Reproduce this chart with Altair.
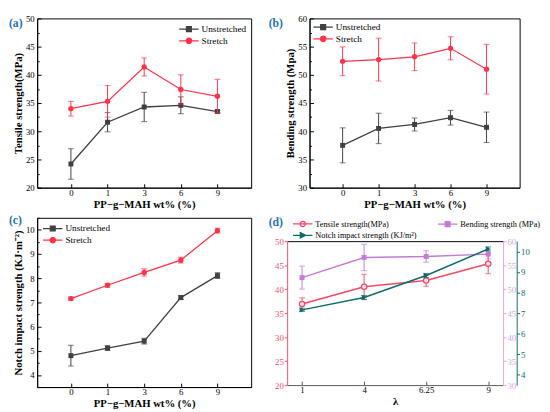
import altair as alt
import pandas as pd

FONT = "Liberation Serif"
BLUE = "#1f6fb5"

# ---------- panels (a)-(c) ----------
wt_labels = ["0", "1", "3", "6", "9"]
series_names = ["Unstretched", "Stretch"]
series_colors = ["#404040", "#ff3349"]

tensile_unstretched = [24.2, 31.6, 34.3, 34.6, 33.5]
tensile_unstretched_err = [2.7, 1.7, 2.6, 1.5, 0.2]
tensile_stretch = [34.0, 35.3, 41.4, 37.4, 36.2]
tensile_stretch_err = [1.3, 2.8, 1.6, 2.6, 3.0]

bending_unstretched = [37.5, 40.5, 41.2, 42.4, 40.7]
bending_unstretched_err = [3.1, 2.7, 1.15, 1.3, 2.7]
bending_stretch = [52.4, 52.7, 53.2, 54.7, 51.0]
bending_stretch_err = [2.55, 3.8, 2.45, 2.05, 4.4]

notch_unstretched = [4.80, 5.11, 5.40, 7.20, 8.11]
notch_unstretched_err = [0.43, 0.10, 0.12, 0.08, 0.12]
notch_stretch = [7.16, 7.71, 8.24, 8.75, 9.97]
notch_stretch_err = [0.07, 0.08, 0.15, 0.12, 0.10]

# ---------- panel (d) ----------
lambda_labels = ["1", "4", "6.25", "9"]
d_names = ["Tensile strength(MPa)", "Bending strength (MPa)", "Notch impact strength (KJ/m²)"]
d_colors = ["#f24a66", "#c47bd6", "#0f6b68"]
d_axis_colors = ["#f2506a", "#d9a6e3", "#0f6b68"]
d_tensile = [36.9, 40.5, 41.8, 45.3]
d_tensile_err = [1.3, 2.6, 1.2, 2.1]
d_bending = [52.4, 56.6, 56.8, 57.3]
d_bending_err = [2.4, 2.75, 1.2, 1.0]
d_notch = [7.16, 7.76, 8.83, 10.12]
d_notch_err = [0.08, 0.10, 0.10, 0.10]

# legend symbols: a line with the marker in its middle (unit = 5 px)
SQ = "M-1,0H3M0.5,-0.5H1.5V0.5H0.5Z"
CI = "M-1,0H3M1.55,0A0.55,0.55,0,1,1,0.45,0A0.55,0.55,0,1,1,1.55,0Z"
TR = "M-1,0H3M0.5,-0.55L1.6,0L0.5,0.55Z"


def leg_params(**kw):
    base = dict(padding=0, rowPadding=0, symbolSize=100, symbolStrokeWidth=1.3,
                labelFont=FONT, labelFontSize=9.5, labelColor="black", title=None,
                labelOffset=12, labelLimit=400)
    base.update(kw)
    return base


def panel_title(text, offset, dx):
    return alt.TitleParams(text=text, anchor="start", frame="bounds", orient="top",
                           offset=offset, dx=dx, color=BLUE, font=FONT,
                           fontSize=12, fontWeight="bold")


def tick_axis(orient, values, size, color="black"):
    # an extra axis pushed inside the frame so that its ticks point inward
    return alt.Axis(orient=orient, values=values, offset=-size, tickSize=size,
                    labels=False, domain=False, title=None, tickColor=color, grid=False)


def steps(a, b, s):
    out = []
    v = a
    while v <= b + 1e-9:
        out.append(round(v, 3))
        v += s
    return out


def make_panel(label, vals, errs, ytitle, ydomain, ymajor, yminor,
               legend_orient, legend_offset, width, height, tdx, toff):
    xscale = alt.Scale(type="point", padding=0.92)
    yscale = alt.Scale(domain=ydomain, zero=False, nice=False)
    x_main = alt.Axis(title="PP−g−MAH wt% (%)", labelAngle=0, tickSize=0, ticks=False,
                      labelPadding=1, titlePadding=1, orient="bottom")
    y_main = alt.Axis(title=ytitle, values=ymajor, tickSize=0, ticks=False,
                      labelPadding=3, titlePadding=2, orient="left")

    def X(axis):
        return alt.X("x:O", sort=wt_labels, scale=xscale, axis=axis)

    def Y(f, axis):
        return alt.Y(f, scale=yscale, axis=axis)

    layers = []
    for i, (name, color, v, e) in enumerate(zip(series_names, series_colors, vals, errs)):
        df = pd.DataFrame({"x": wt_labels, "v": v,
                           "lo": [a - b for a, b in zip(v, e)],
                           "hi": [a + b for a, b in zip(v, e)]})
        base = alt.Chart(df)
        first = i == 0
        layers.append(base.mark_rule(color=color, strokeWidth=1).encode(
            x=X(x_main if first else None), y=Y("lo:Q", y_main if first else None), y2="hi:Q"))
        layers.append(base.mark_tick(color=color, size=6, thickness=1).encode(
            x=X(tick_axis("bottom", wt_labels, 4) if first else None),
            y=Y("lo:Q", tick_axis("left", ymajor, 4) if first else None)))
        layers.append(base.mark_tick(color=color, size=6, thickness=1).encode(
            x=X(None), y=Y("hi:Q", tick_axis("left", yminor, 2) if first else None)))
        layers.append(base.mark_line(color=color, strokeWidth=1.3).encode(
            x=X(None), y=Y("v:Q", None)))
        layers.append(base.mark_point(shape="square" if first else "circle", filled=True,
                                      color=color, size=26 if first else 30, opacity=1).encode(
            x=X(None), y=Y("v:Q", None)))

    lp = leg_params(orient=legend_orient, offset=legend_offset)
    leg = alt.Chart(pd.DataFrame({"series": series_names})).mark_point(opacity=1, strokeWidth=1.3).encode(
        fill=alt.Fill("series:N", scale=alt.Scale(domain=series_names, range=series_colors), legend=alt.Legend(**lp)),
        stroke=alt.Stroke("series:N", scale=alt.Scale(domain=series_names, range=series_colors), legend=alt.Legend(**lp)),
        shape=alt.Shape("series:N", scale=alt.Scale(domain=series_names, range=[SQ, CI]), legend=alt.Legend(**lp)),
    ).transform_filter("false")
    layers.append(leg)
    return alt.layer(*layers).resolve_axis(x="independent", y="independent").properties(
        width=width, height=height, title=panel_title(label, toff, tdx))


pa = make_panel("(a)", [tensile_unstretched, tensile_stretch], [tensile_unstretched_err, tensile_stretch_err],
                "Tensile strength(MPa)", [20, 50], steps(20, 50, 5), steps(22.5, 47.5, 5),
                "top-right", 5, 220, 174, -4, -16)
pb = make_panel("(b)", [bending_unstretched, bending_stretch], [bending_unstretched_err, bending_stretch_err],
                "Bending strength (Mpa)", [30, 60], steps(30, 60, 5), steps(32.5, 57.5, 5),
                "top-left", 3, 216, 174, -17, -16)
pc = make_panel("(c)", [notch_unstretched, notch_stretch], [notch_unstretched_err, notch_stretch_err],
                "Notch impact strength (KJ·m⁻²)", [3.5, 10.5], steps(4, 10, 1), steps(3.5, 10.5, 1),
                "top-left", 5, 220, 174, -4, -10)

# ---------- panel (d) ----------
D_H = 172      # whole view height; the legend sits in its top band
D_TOP = 24     # where the plotting frame of (d) starts
xscale_d = alt.Scale(type="point", padding=0.24)
xaxis_d_main = alt.Axis(title="λ", labelAngle=0, tickSize=0, ticks=False, labelPadding=1, titlePadding=1,
                        domainColor="#555555", orient="bottom")
xaxis_d_ticks = tick_axis("bottom", lambda_labels, 4, "#555555")
xaxis_d_top = alt.Axis(orient="top", offset=-D_TOP, labels=False, ticks=False, domain=True,
                       domainColor="black", title=None, grid=False)


def d_series(vals, errs, color, ydomain, yaxis, xaxis, point_mark):
    df = pd.DataFrame({"x": lambda_labels, "v": vals,
                       "lo": [v - e for v, e in zip(vals, errs)],
                       "hi": [v + e for v, e in zip(vals, errs)]})
    ys = alt.Scale(domain=ydomain, zero=False, nice=False, range=[D_H, D_TOP])
    xe = alt.X("x:O", sort=lambda_labels, scale=xscale_d, axis=xaxis)

    def Y(f):
        return alt.Y(f, scale=ys, axis=yaxis)

    base = alt.Chart(df)
    bars = base.mark_rule(color=color, strokeWidth=1).encode(x=xe, y=Y("lo:Q"), y2="hi:Q")
    cap_lo = base.mark_tick(color=color, size=6, thickness=1).encode(x=xe, y=Y("lo:Q"))
    cap_hi = base.mark_tick(color=color, size=6, thickness=1).encode(x=xe, y=Y("hi:Q"))
    line = base.mark_line(color=color, strokeWidth=1.5).encode(x=xe, y=Y("v:Q"))
    pts = base.mark_point(**point_mark).encode(x=xe, y=Y("v:Q"))
    return alt.layer(bars, cap_lo, cap_hi, line, pts)


def d_axis(color, orient, values, offset=0):
    return alt.Axis(orient=orient, title=None, values=values, offset=offset, tickSize=3,
                    labelPadding=1, domainColor=color, tickColor=color, labelColor=color,
                    labelFontSize=9, grid=False)


t_layer = d_series(d_tensile, d_tensile_err, d_colors[0], [20, 50],
                   d_axis(d_axis_colors[0], "left", steps(20, 50, 5)), xaxis_d_main,
                   dict(shape="circle", filled=False, fill="#ffe4ea", color=d_colors[0],
                        size=30, strokeWidth=1.3, opacity=1))
b_layer = d_series(d_bending, d_bending_err, d_colors[1], [30, 60],
                   d_axis(d_axis_colors[1], "right", steps(30, 60, 5)), xaxis_d_ticks,
                   dict(shape="square", filled=True, color=d_colors[1], size=26, opacity=1))
n_layer = d_series(d_notch, d_notch_err, d_colors[2], [3.5, 10.5],
                   d_axis(d_axis_colors[2], "right", steps(4, 10, 1), offset=14), xaxis_d_top,
                   dict(shape="triangle-right", filled=True, color=d_colors[2], size=30, opacity=1))

lpd = leg_params(orient="none", legendX=5, legendY=0, columns=2, direction="horizontal",
                 columnPadding=18, labelFontSize=8.5)
d_leg = alt.Chart(pd.DataFrame({"series": d_names})).mark_point(opacity=1, strokeWidth=1.3).encode(
    fill=alt.Fill("series:N", scale=alt.Scale(domain=d_names, range=["#ffe4ea", d_colors[1], d_colors[2]]), legend=alt.Legend(**lpd)),
    stroke=alt.Stroke("series:N", scale=alt.Scale(domain=d_names, range=d_colors), legend=alt.Legend(**lpd)),
    shape=alt.Shape("series:N", scale=alt.Scale(domain=d_names, range=[CI, SQ, TR]), legend=alt.Legend(**lpd)),
).transform_filter("false")

pd_chart = alt.layer(t_layer, b_layer, n_layer, d_leg).resolve_scale(y="independent").resolve_axis(
    x="independent", y="independent").properties(
    width=222, height=D_H, title=panel_title("(d)", -11, -6),
    view=alt.ViewBackground(stroke="transparent"))

indep = dict(color="independent", fill="independent", stroke="independent", shape="independent")
row1 = alt.hconcat(pa, pb, spacing=16).resolve_scale(**indep)
row2 = alt.hconcat(pc, pd_chart, spacing=16).resolve_scale(**indep)

chart = alt.vconcat(row1, row2, spacing=4).resolve_scale(**indep).properties(
    padding={"left": 0, "top": 0, "right": 0, "bottom": 0}
).configure_view(stroke="black", strokeWidth=1).configure_axis(
    labelFont=FONT, titleFont=FONT, labelFontSize=9, titleFontSize=11,
    titleFontWeight="bold", labelColor="black", titleColor="black",
    domainColor="black", tickColor="black", grid=False
)

chart.save("out.html", embed_options={"renderer": "svg", "actions": False})
